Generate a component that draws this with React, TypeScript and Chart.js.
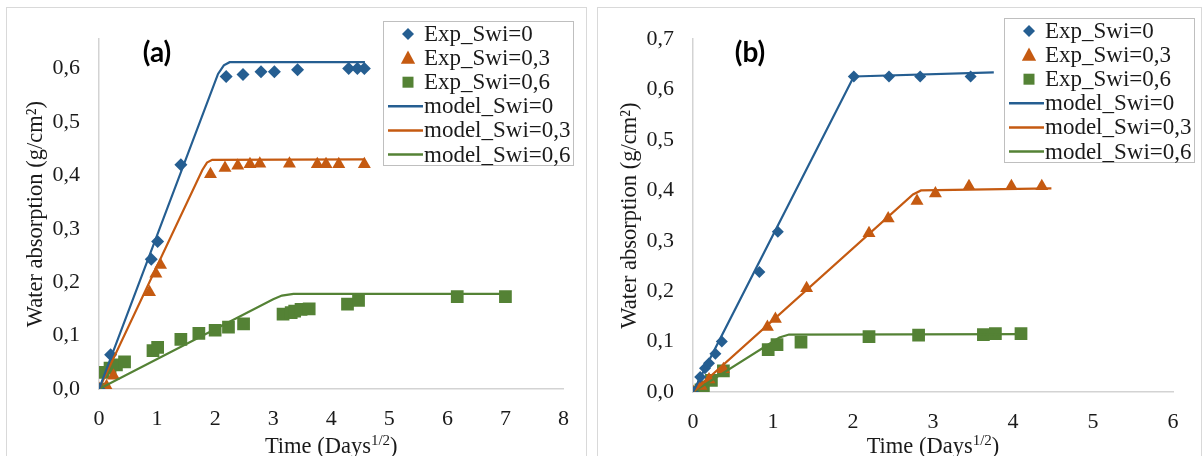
import React, { useEffect, useRef } from "react";
import { Chart, registerables } from "chart.js";

Chart.register(...registerables);

// ---------- Panel (a) data ----------
const aExp0X = [0, 0.2, 0.9, 1.01, 1.41, 2.19, 2.48, 2.79, 3.02, 3.42, 4.3, 4.45, 4.57];
const aExp0Y = [0, 0.064, 0.243, 0.276, 0.42, 0.585, 0.589, 0.594, 0.594, 0.598, 0.6, 0.6, 0.6];
const aExp3X = [0, 0.13, 0.25, 0.87, 0.98, 1.06, 1.92, 2.17, 2.39, 2.6, 2.77, 3.28, 3.76, 3.91, 4.13, 4.57];
const aExp3Y = [0, 0.005, 0.025, 0.181, 0.216, 0.232, 0.402, 0.414, 0.418, 0.421, 0.422, 0.422, 0.421, 0.421, 0.421, 0.421];
const aExp6X = [0, 0.07, 0.19, 0.3, 0.44, 0.93, 1.01, 1.41, 1.72, 2.0, 2.23, 2.49, 3.17, 3.31, 3.37, 3.48, 3.62, 4.28, 4.47, 6.17, 7.0];
const aExp6Y = [0, 0.031, 0.039, 0.045, 0.051, 0.072, 0.078, 0.093, 0.104, 0.11, 0.116, 0.122, 0.14, 0.143, 0.146, 0.149, 0.15, 0.159, 0.166, 0.173, 0.173];
const aMod0X = [0, 2.05, 2.15, 2.25, 4.58];
const aMod0Y = [0, 0.59, 0.606, 0.612, 0.612];
const aMod3X = [0, 1.78, 1.86, 1.95, 4.58];
const aMod3Y = [0, 0.41, 0.424, 0.429, 0.43];
const aMod6X = [0, 3.0, 3.15, 3.35, 7.05];
const aMod6Y = [0, 0.168, 0.175, 0.178, 0.178];

// ---------- Panel (b) data ----------
const bExp0X = [0, 0.09, 0.15, 0.2, 0.28, 0.36, 0.83, 1.06, 2.01, 2.45, 2.84, 3.47];
const bExp0Y = [0, 0.03, 0.047, 0.057, 0.076, 0.1, 0.238, 0.318, 0.626, 0.626, 0.626, 0.626];
const bExp3X = [0, 0.1, 0.2, 0.38, 0.93, 1.03, 1.42, 2.2, 2.44, 2.8, 3.03, 3.45, 3.98, 4.36];
const bExp3Y = [0, 0.012, 0.025, 0.045, 0.129, 0.145, 0.206, 0.315, 0.344, 0.379, 0.394, 0.408, 0.408, 0.408];
const bExp6X = [0, 0.1, 0.13, 0.23, 0.38, 0.94, 1.05, 1.35, 2.2, 2.82, 3.63, 3.78, 4.1];
const bExp6Y = [0, 0.004, 0.01, 0.023, 0.042, 0.084, 0.094, 0.099, 0.11, 0.113, 0.114, 0.116, 0.116];
const bMod0X = [0, 2.01, 3.76];
const bMod0Y = [0, 0.626, 0.634];
const bMod3X = [0, 2.75, 2.85, 4.48];
const bMod3Y = [0, 0.392, 0.4, 0.404];
const bMod6X = [0, 1.08, 1.2, 4.17];
const bMod6Y = [0, 0.108, 0.114, 0.115];

const seriesLabels = ["Exp_Swi=0", "Exp_Swi=0,3", "Exp_Swi=0,6", "model_Swi=0", "model_Swi=0,3", "model_Swi=0,6"];
const yTitle = "Water absorption (g/cm²)";
const xTitleMain = "Time (Days";
const xTitleSup = "1/2";
const xTitleEnd = ")";

const BLUE = "#255E91";
const ORANGE = "#C55A11";
const GREEN = "#548235";
const TXT = "#1a1a1a";
const AXIS = "#D3D3D3";
const SERIF = "'Liberation Serif', 'Times New Roman', serif";

const pts = (xs: number[], ys: number[]) => xs.map((x, i) => ({ x, y: ys[i] }));

function drawMarker(ctx: CanvasRenderingContext2D, style: string, x: number, y: number, s: number, color: string) {
  ctx.save();
  ctx.fillStyle = color;
  ctx.beginPath();
  if (style === "rectRot") {
    ctx.moveTo(x, y - s);
    ctx.lineTo(x + s, y);
    ctx.lineTo(x, y + s);
    ctx.lineTo(x - s, y);
  } else if (style === "triangle") {
    ctx.moveTo(x, y - s);
    ctx.lineTo(x + s * 0.95, y + s * 0.75);
    ctx.lineTo(x - s * 0.95, y + s * 0.75);
  } else {
    ctx.rect(x - s, y - s, 2 * s, 2 * s);
  }
  ctx.closePath();
  ctx.fill();
  ctx.restore();
}

const decorPlugin = {
  id: "decor",
  afterDraw(chart: any, _args: any, opts: any) {
    const ctx: CanvasRenderingContext2D = chart.ctx;
    const area = chart.chartArea;
    ctx.save();
    // panel label
    ctx.font = "bold 28px Lato, 'Open Sans', sans-serif";
    ctx.fillStyle = "#000";
    ctx.textAlign = "center";
    ctx.textBaseline = "middle";
    ctx.fillText(opts.panelLabel, opts.labelX, opts.labelY);

    // y title
    ctx.save();
    ctx.translate(area.left - 63, (area.top + area.bottom) / 2);
    ctx.rotate(-Math.PI / 2);
    ctx.font = `22.5px ${SERIF}`;
    ctx.fillStyle = TXT;
    ctx.textAlign = "center";
    ctx.textBaseline = "middle";
    ctx.fillText(yTitle, 0, 0);
    ctx.restore();

    // x title with superscript
    const mainFont = `22.5px ${SERIF}`;
    const supFont = `15px ${SERIF}`;
    ctx.font = mainFont;
    const w1 = ctx.measureText(xTitleMain).width;
    const w3 = ctx.measureText(xTitleEnd).width;
    ctx.font = supFont;
    const w2 = ctx.measureText(xTitleSup).width;
    const total = w1 + w2 + w3;
    const x0 = (area.left + area.right) / 2 - total / 2;
    const base = opts.xTitleBaseline;
    ctx.textAlign = "left";
    ctx.textBaseline = "alphabetic";
    ctx.fillStyle = TXT;
    ctx.font = mainFont;
    ctx.fillText(xTitleMain, x0, base);
    ctx.font = supFont;
    ctx.fillText(xTitleSup, x0 + w1, base - 8);
    ctx.font = mainFont;
    ctx.fillText(xTitleEnd, x0 + w1 + w2, base);

    // legend box
    const L = opts.legendLeft;
    const T = opts.legendTop;
    ctx.fillStyle = "#fff";
    ctx.fillRect(L, T, 190, 144);
    ctx.strokeStyle = "#BFBFBF";
    ctx.lineWidth = 1;
    ctx.strokeRect(L + 0.5, T + 0.5, 190, 144);
    const ds = chart.data.datasets;
    ds.forEach((d: any, i: number) => {
      const cy = T + 13 + i * 24.1;
      if (d.showLine) {
        ctx.strokeStyle = d.borderColor;
        ctx.lineWidth = 2.5;
        ctx.beginPath();
        ctx.moveTo(L + 5, cy);
        ctx.lineTo(L + 40, cy);
        ctx.stroke();
      } else {
        const s = d.pointStyle === "rectRot" ? 6 : d.pointStyle === "triangle" ? 7.5 : 5.5;
        drawMarker(ctx, d.pointStyle, L + 25, cy, s, d.backgroundColor);
      }
      ctx.font = `23px ${SERIF}`;
      ctx.fillStyle = TXT;
      ctx.textAlign = "left";
      ctx.textBaseline = "middle";
      ctx.fillText(d.label, L + 41, cy + 1);
    });
    ctx.restore();
  },
};

type PanelProps = {
  left: number;
  top: number;
  width: number;
  height: number;
  xMax: number;
  yMax: number;
  yWidth: number;
  xHeight: number;
  padTop: number;
  padRight: number;
  sizes: number[];
  exp: { x: number; y: number }[][];
  model: { x: number; y: number }[][];
  decor: any;
};

function Panel(p: PanelProps) {
  const ref = useRef<HTMLCanvasElement | null>(null);
  useEffect(() => {
    if (!ref.current) return;
    const colors = [BLUE, ORANGE, GREEN];
    const styles = ["rectRot", "triangle", "rect"];
    const datasets: any[] = [];
    p.exp.forEach((d, i) =>
      datasets.push({
        label: seriesLabels[i],
        data: d,
        showLine: false,
        pointStyle: styles[i],
        pointRadius: p.sizes[i],
        pointBackgroundColor: colors[i],
        backgroundColor: colors[i],
        pointBorderWidth: 0,
        borderColor: colors[i],
        order: 1,
      })
    );
    p.model.forEach((d, i) =>
      datasets.push({
        label: seriesLabels[i + 3],
        data: d,
        showLine: true,
        pointRadius: 0,
        borderColor: colors[i],
        backgroundColor: colors[i],
        borderWidth: 2.2,
        tension: 0,
        order: 0,
      })
    );
    const chart = new Chart(ref.current, {
      type: "scatter",
      data: { datasets },
      plugins: [decorPlugin],
      options: {
        animation: false,
        responsive: false,
        maintainAspectRatio: false,
        layout: { padding: { top: p.padTop, right: p.padRight, left: 0, bottom: 0 } },
        plugins: {
          legend: { display: false },
          tooltip: { enabled: false },
          decor: p.decor,
        } as any,
        scales: {
          x: {
            type: "linear",
            min: 0,
            max: p.xMax,
            grid: { display: false, drawTicks: false },
            border: { display: true, color: AXIS, width: 1.5 },
            ticks: {
              stepSize: 1,
              autoSkip: false,
              maxRotation: 0,
              padding: 17,
              color: TXT,
              font: { family: SERIF, size: 22 },
            },
            afterFit: (s: any) => {
              s.height = p.xHeight;
            },
          },
          y: {
            type: "linear",
            min: 0,
            max: p.yMax,
            grid: { display: false, drawTicks: false },
            border: { display: true, color: AXIS, width: 1.5 },
            ticks: {
              stepSize: 0.1,
              padding: 19,
              color: TXT,
              font: { family: SERIF, size: 22 },
              callback: (v: any) => Number(v).toFixed(1).replace(".", ","),
            },
            afterBuildTicks: (s: any) => {
              s.ticks = s.ticks.filter((t: any) => Math.abs(t.value * 10 - Math.round(t.value * 10)) < 1e-6);
            },
            afterFit: (s: any) => {
              s.width = p.yWidth;
            },
          },
        },
      } as any,
    });
    return () => chart.destroy();
  }, []);
  return (
    <canvas
      ref={ref}
      width={p.width}
      height={p.height}
      style={{ position: "absolute", left: p.left, top: p.top, width: p.width, height: p.height }}
    />
  );
}

export default function App() {
  return (
    <div style={{ position: "fixed", left: 0, top: 0, width: 1202, height: 456, background: "#fff", overflow: "hidden" }}>
      <div style={{ position: "absolute", left: 6, top: 7, width: 579, height: 470, border: "1px solid #D9D9D9" }} />
      <div style={{ position: "absolute", left: 597, top: 7, width: 603, height: 470, border: "1px solid #D9D9D9" }} />
      <Panel
        left={6}
        top={7}
        width={580}
        height={449}
        xMax={8}
        yMax={0.655}
        yWidth={93}
        xHeight={67}
        padTop={12}
        padRight={18}
        sizes={[6.5, 7.5, 9]}
        exp={[pts(aExp0X, aExp0Y), pts(aExp3X, aExp3Y), pts(aExp6X, aExp6Y)]}
        model={[pts(aMod0X, aMod0Y), pts(aMod3X, aMod3Y), pts(aMod6X, aMod6Y)]}
        decor={{ panelLabel: "(a)", labelX: 151, labelY: 46, xTitleBaseline: 446, legendLeft: 377, legendTop: 14 }}
      />
      <Panel
        left={597}
        top={7}
        width={605}
        height={449}
        xMax={6}
        yMax={0.7}
        yWidth={96}
        xHeight={64}
        padTop={21}
        padRight={29}
        sizes={[6, 7.5, 9]}
        exp={[pts(bExp0X, bExp0Y), pts(bExp3X, bExp3Y), pts(bExp6X, bExp6Y)]}
        model={[pts(bMod0X, bMod0Y), pts(bMod3X, bMod3Y), pts(bMod6X, bMod6Y)]}
        decor={{ panelLabel: "(b)", labelX: 153, labelY: 46, xTitleBaseline: 446, legendLeft: 407, legendTop: 11 }}
      />
    </div>
  );
}
